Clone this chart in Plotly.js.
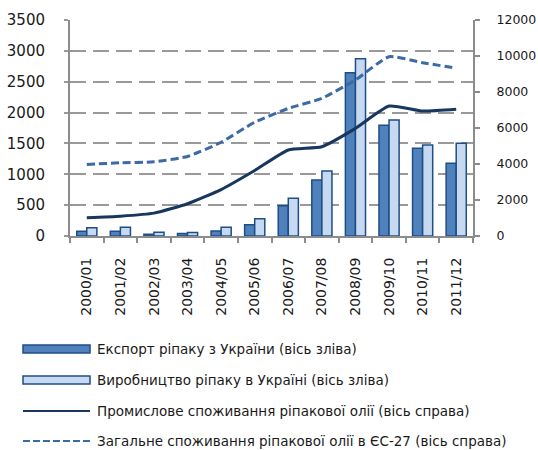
<!DOCTYPE html>
<html>
<head>
<meta charset="utf-8">
<script src="https://cdn.plot.ly/plotly-3.0.1.min.js"></script>
<style>html,body{margin:0;padding:0;background:#fff;}#chart{width:538px;height:450px;}</style>
</head>
<body>
<div id="chart"></div>
<script>
const categories = ["2000/01","2001/02","2002/03","2003/04","2004/05","2005/06","2006/07","2007/08","2008/09","2009/10","2010/11","2011/12"];
const exportUA = [78, 75, 30, 40, 80, 183, 491, 907, 2646, 1793, 1420, 1178];
const productionUA = [135, 140, 60, 55, 141, 281, 611, 1053, 2873, 1880, 1475, 1502];
const industrialUse = [1010, 1100, 1270, 1790, 2580, 3640, 4780, 4960, 5980, 7220, 6940, 7040];
const totalEU27 = [3970, 4070, 4120, 4420, 5210, 6320, 7090, 7650, 8670, 9960, 9630, 9320];
const seriesNames = [
  "Експорт ріпаку з України (вісь зліва)",
  "Виробництво ріпаку в Україні (вісь зліва)",
  "Промислове споживання ріпакової олії (вісь справа)",
  "Загальне споживання ріпакової олії в ЄС-27 (вісь справа)"
];

const FONT = "DejaVu Sans, Verdana, sans-serif";
const BORDER = "#1f4e85";
const traces = [
  {type:"bar", x:categories, y:exportUA, name:seriesNames[0], marker:{color:"#4f81bd", line:{color:BORDER, width:1.5}}, showlegend:false},
  {type:"bar", x:categories, y:productionUA, name:seriesNames[1], marker:{color:"#c6d9f1", line:{color:BORDER, width:1.5}}, showlegend:false},
  {type:"scatter", mode:"lines", x:categories, y:industrialUse, yaxis:"y2", name:seriesNames[2], line:{color:"#17375e", width:3, shape:"spline", smoothing:0.5}, showlegend:false},
  {type:"scatter", mode:"lines", x:categories, y:totalEU27, yaxis:"y2", name:seriesNames[3], line:{color:"#3b6aa6", width:3, dash:"8px,4px", shape:"spline", smoothing:0.5}, showlegend:false}
];

// plot area geometry (pixels) for placing the custom legend
const L = 70, R = 65, T = 20, B = 214, W = 538, H = 450;
const pw = W - L - R, ph = H - T - B;
const px = v => (v - L) / pw;
const py = v => (H - B - v) / ph;

const shapes = [];
const annotations = [];
const rowsY = [349, 380, 411, 441];
const sx0 = 23, sx1 = 90, tx = 95;
["#4f81bd","#c6d9f1"].forEach((c,i)=>{
  shapes.push({type:"rect", xref:"paper", yref:"paper", x0:px(sx0), x1:px(sx1), y0:py(rowsY[i]+4), y1:py(rowsY[i]-4), fillcolor:c, line:{color:BORDER, width:1.5}});
});
shapes.push({type:"line", xref:"paper", yref:"paper", x0:px(sx0), x1:px(sx1), y0:py(rowsY[2]), y1:py(rowsY[2]), line:{color:"#17375e", width:2}});
shapes.push({type:"line", xref:"paper", yref:"paper", x0:px(sx0), x1:px(sx1), y0:py(rowsY[3]), y1:py(rowsY[3]), line:{color:"#3b6aa6", width:2, dash:"7px,3px"}});
seriesNames.forEach((t,i)=>{
  annotations.push({xref:"paper", yref:"paper", x:px(tx), y:py(rowsY[i]), text:t, showarrow:false, xanchor:"left", yanchor:"middle", font:{family:FONT, size:13.5, color:"#1a1a1a"}});
});

const layout = {
  width:W, height:H,
  margin:{l:L, r:R, t:T, b:B, pad:0},
  paper_bgcolor:"#fff", plot_bgcolor:"#fff",
  font:{family:FONT, color:"#1a1a1a"},
  barmode:"group", bargap:0.4, bargroupgap:0,
  showlegend:false,
  xaxis:{type:"category", tickson:"boundaries", ticks:"outside", ticklen:5, tickwidth:2, tickcolor:"#8c8c8c",
         showline:true, linecolor:"#8c8c8c", linewidth:2, showgrid:false, tickangle:-90,
         tickfont:{family:FONT, size:14, color:"#1a1a1a"}, ticklabelstandoff:14},
  yaxis:{range:[0,3500], dtick:500, showgrid:true, gridcolor:"#999", gridwidth:2, griddash:"16px,7px",
         zeroline:false, showline:true, linecolor:"#8c8c8c", linewidth:2, ticks:"outside", ticklen:4, tickcolor:"#999", tickwidth:2,
         tickfont:{family:FONT, size:15, color:"#1a1a1a"}, ticklabelstandoff:16},
  yaxis2:{range:[0,12000], dtick:2000, tickformat:"d", overlaying:"y", side:"right", showgrid:false, zeroline:false,
          showline:true, linecolor:"#8c8c8c", linewidth:2, ticks:"outside", ticklen:5, tickcolor:"#8c8c8c", tickwidth:1.5,
          tickfont:{family:FONT, size:12.5, color:"#1a1a1a"}, ticklabelstandoff:14},
  shapes:shapes, annotations:annotations
};
Plotly.newPlot("chart", traces, layout, {displayModeBar:false, staticPlot:true});
</script>
</body>
</html>
